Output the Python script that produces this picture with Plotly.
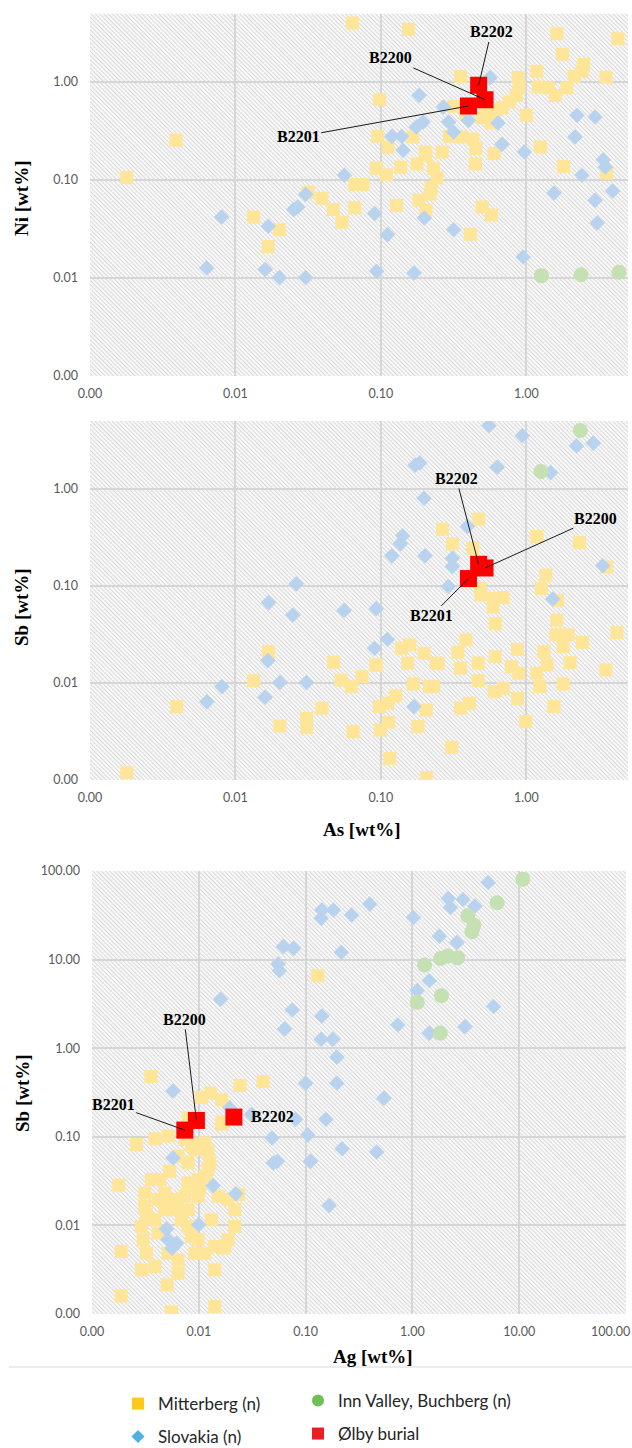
import base64
import numpy as np
import plotly.graph_objects as go

W, H = 632, 1448

# ---------------- DATA ----------------
# Panel 1: Ni vs As
mit1_as = [0.00179, 0.0039, 0.0133, 0.0168, 0.0201, 0.0316, 0.0393, 0.047, 0.054, 0.066, 0.0755, 0.066,
           0.0637, 0.155, 0.098, 0.095, 0.093, 0.112, 0.109, 0.128, 0.137, 0.166, 0.177, 0.204, 0.201,
           0.23, 0.243, 0.222, 0.218, 0.183, 0.204, 0.264, 0.296, 0.359, 0.43, 0.45, 0.447, 0.497, 0.575,
           0.412, 0.60, 0.354, 0.316, 0.383, 0.494, 0.569, 0.527, 0.607, 0.68, 0.764, 0.853, 0.89, 0.88,
           1.0, 1.25, 1.8, 3.57, 1.18, 1.21, 1.42, 1.58, 1.9, 2.13, 2.41, 2.48, 1.77, 1.62, 4.26, 3.53]
mit1_ni = [0.106, 0.254, 0.042, 0.021, 0.031, 0.075, 0.065, 0.050, 0.037, 0.090, 0.090, 0.052,
           4.0, 3.45, 0.66, 0.28, 0.132, 0.217, 0.113, 0.055, 0.135, 0.275, 0.146, 0.177, 0.193,
           0.132, 0.105, 0.084, 0.072, 0.0625, 0.049, 0.193, 0.279, 0.275, 0.26, 0.21, 0.146, 0.053, 0.044,
           0.028, 0.186, 1.14, 0.565, 0.475, 0.433, 0.382, 0.514, 0.506, 0.547, 0.625, 0.73, 0.89, 1.11,
           0.457, 0.217, 0.137, 0.117, 1.29, 0.89, 0.875, 0.73, 0.875, 1.14, 1.29, 1.51, 1.92, 3.11, 2.77, 1.12]

slo1_as = [0.00634, 0.00803, 0.016, 0.0168, 0.0201, 0.0251, 0.0268, 0.0304, 0.0304, 0.056, 0.0905, 0.0934,
           0.111, 0.119, 0.139, 0.142, 0.169, 0.183, 0.175, 0.195, 0.199, 0.269, 0.292, 0.316, 0.316,
           0.40, 0.562, 0.638, 0.68, 0.968, 0.95, 1.55, 2.23, 2.16, 2.41, 2.97, 2.97, 3.07, 3.38, 3.49, 3.92]
slo1_ni = [0.01265, 0.0419, 0.0122, 0.0337, 0.0101, 0.0498, 0.053, 0.0714, 0.0101, 0.112, 0.0454, 0.0117,
           0.0277, 0.279, 0.279, 0.201, 0.01125, 0.731, 0.347, 0.391, 0.041, 0.556, 0.391, 0.309, 0.0311,
           0.406, 1.107, 0.382, 0.231, 0.193, 0.0164, 0.0737, 0.457, 0.275, 0.112, 0.44, 0.062, 0.0364,
           0.161, 0.136, 0.0773]

inn1_as = [1.27, 2.38, 4.33]
inn1_ni = [0.01057, 0.0108, 0.01143]

# Ølby burial samples: B2200, B2201, B2202
olby_names = ["B2200", "B2201", "B2202"]
olby_as = [0.52, 0.40, 0.47]
olby_ni = [0.66, 0.569, 0.925]
olby_sb = [0.153, 0.119, 0.167]
olby_ag = [0.0095, 0.0074, 0.0213]

# Panel 2: Sb vs As
mit2_as = [0.00179, 0.00394, 0.0133, 0.0169, 0.0202, 0.0308, 0.031, 0.0393, 0.0473, 0.0531, 0.0627, 0.0644,
           0.0741, 0.0929, 0.0977, 0.099, 0.113, 0.111, 0.126, 0.115, 0.139, 0.158, 0.153, 0.167, 0.18,
           0.198, 0.205, 0.216, 0.23, 0.24, 0.205, 0.265, 0.31, 0.307, 0.338, 0.353, 0.353, 0.384, 0.407,
           0.429, 0.472, 0.466, 0.466, 0.482, 0.488, 0.596, 0.692, 0.59, 0.612, 0.61, 0.603, 0.694, 0.869,
           0.789, 0.885, 0.869, 0.99, 1.18, 1.27, 1.36, 1.18, 1.24, 1.32, 1.39, 1.55, 1.62, 1.6, 1.64,
           1.79, 1.79, 1.94, 2.0, 2.43, 2.32, 3.52, 3.57, 4.19, 0.248, 0.0923]
mit2_sb = [0.00119, 0.0057, 0.01057, 0.021, 0.0036, 0.00432, 0.00349, 0.00548, 0.0163, 0.0107, 0.00917, 0.00315,
           0.0116, 0.0153, 0.0057, 0.00327, 0.00393, 0.00617, 0.00735, 0.00167, 0.0228, 0.0247, 0.016, 0.00977,
           0.00355, 0.0202, 0.00527, 0.00917, 0.0092, 0.016, 0.00106, 0.384, 0.271, 0.00217, 0.0207, 0.0142,
           0.00548, 0.0277, 0.00617, 0.245, 0.487, 0.016, 0.01057, 0.094, 0.0807, 0.074, 0.0758, 0.0608,
           0.0409, 0.0187, 0.00815, 0.00883, 0.0222, 0.0147, 0.0126, 0.00689, 0.00399, 0.323, 0.094, 0.129,
           0.0126, 0.00917, 0.021, 0.0153, 0.0057, 0.0443, 0.0313, 0.0711, 0.0237, 0.00977, 0.0313, 0.0162,
           0.0262, 0.28, 0.0136, 0.156, 0.033, 0.0158, 0.0152]

slo2_as = [0.00637, 0.00807, 0.016, 0.0167, 0.0169, 0.0202, 0.0248, 0.0262, 0.0308, 0.0558, 0.0929, 0.0904,
           0.111, 0.119, 0.136, 0.141, 0.169, 0.172, 0.185, 0.198, 0.201, 0.291, 0.31, 0.31, 0.394, 0.553,
           0.63, 0.938, 1.47, 1.52, 2.21, 2.89, 3.35]
slo2_sb = [0.00642, 0.00917, 0.00711, 0.017, 0.0673, 0.0101, 0.0502, 0.105, 0.0101, 0.0557, 0.0583, 0.0228,
           0.0282, 0.204, 0.271, 0.328, 0.0057, 1.75, 1.85, 0.80, 0.204, 0.0984, 0.193, 0.158, 0.409, 4.46,
           1.67, 3.52, 1.47, 0.0734, 2.77, 2.96, 0.161]

inn2_as = [1.26, 2.35]
inn2_sb = [1.51, 3.99]

# Panel 3: Sb vs Ag
mit3_ag = [0.130, 0.00356, 0.0243, 0.04, 0.0129, 0.0164, 0.0106, 0.0163, 0.00794, 0.0026, 0.00387, 0.00516,
           0.0074, 0.00917, 0.0122, 0.0127, 0.00794, 0.0064, 0.0114, 0.00854, 0.00178, 0.0043, 0.00312,
           0.00312, 0.00323, 0.00416, 0.00516, 0.0064, 0.0074, 0.00794, 0.0102, 0.0114, 0.0122, 0.0152,
           0.0188, 0.0217, 0.0217, 0.0188, 0.0141, 0.0114, 0.00986, 0.00794, 0.00688, 0.00596, 0.0048,
           0.00387, 0.0029, 0.00301, 0.00323, 0.0029, 0.00387, 0.00516, 0.0064, 0.0064, 0.0141, 0.0169,
           0.00505, 0.00188, 0.00188, 0.00555, 0.0141, 0.00416, 0.00854, 0.00917, 0.0131, 0.00986, 0.00986,
           0.00794, 0.0048, 0.0036, 0.00534, 0.0236, 0.0175, 0.0167]
mit3_sb = [6.59, 0.48, 0.38, 0.42, 0.311, 0.262, 0.277, 0.138, 0.164, 0.0819, 0.095, 0.102,
           0.0933, 0.072, 0.0689, 0.0508, 0.0508, 0.0604, 0.0855, 0.0819, 0.0284, 0.0329, 0.0232,
           0.0164, 0.0132, 0.0196, 0.0164, 0.015, 0.0213, 0.0301, 0.0265, 0.0359, 0.0427, 0.0213,
           0.0196, 0.015, 0.00975, 0.00689, 0.00578, 0.00486, 0.00689, 0.00975, 0.0116, 0.0196, 0.0232,
           0.0116, 0.00975, 0.00689, 0.00486, 0.00315, 0.00343, 0.00486, 0.00408, 0.00289, 0.00315, 0.00553,
           0.00213, 0.00508, 0.0016, 0.00106, 0.00121, 0.00819, 0.0075, 0.00486, 0.0116, 0.0329, 0.0213,
           0.015, 0.015, 0.0329, 0.0408, 0.0222, 0.00582, 0.147]

slo3_ag = [5.12, 2.17, 2.98, 2.27, 3.84, 1.02, 1.79, 2.61, 1.11, 1.44, 5.74, 0.73, 3.11, 1.44, 0.399, 0.269,
           0.182, 0.142, 0.14, 0.216, 0.0619, 0.0771, 0.0553, 0.0568, 0.016, 0.075, 0.142, 0.0636, 0.14, 0.18,
           0.196, 0.1, 0.196, 0.542, 0.00574, 0.0195, 0.0312, 0.0805, 0.155, 0.0485, 0.105, 0.0498, 0.0543,
           0.111, 0.22, 0.462, 0.166, 0.00574, 0.0136, 0.0222, 0.01, 0.00498, 0.00516, 0.00618, 0.00562]
slo3_sb = [74.2, 49, 47.7, 38.8, 40.1, 29.9, 18.4, 15.6, 4.47, 5.78, 2.95, 1.83, 1.75, 1.48, 42.3, 31.8,
           36.2, 36.2, 29.2, 12.1, 14, 13.4, 8.9, 7.5, 3.57, 2.7, 2.31, 1.65, 1.26, 1.26,
           0.792, 0.403, 0.403, 0.273, 0.329, 0.213, 0.179, 0.158, 0.158, 0.0968, 0.105, 0.0506, 0.0528,
           0.0528, 0.0734, 0.0673, 0.0168, 0.0578, 0.0281, 0.0228, 0.0102, 0.00908, 0.00689, 0.0063, 0.00554]

inn3_ag = [10.8, 6.21, 3.3, 3.77, 3.61, 2.66, 2.14, 1.84, 1.3, 1.87, 1.11, 1.82]
inn3_sb = [80.9, 43.8, 31.2, 24.5, 20.6, 10.5, 11.0, 10.3, 8.69, 3.92, 3.3, 1.48]

# label positions (wt%) for the Ølby annotations, per panel: name -> (x, y)
lab1 = {"B2202": (0.573, 3.24), "B2200": (0.117, 1.76), "B2201": (0.027, 0.275)}
lab2 = {"B2202": (0.33, 1.28), "B2200": (2.99, 0.499), "B2201": (0.222, 0.049)}
lab3 = {"B2200": (0.00728, 2.12), "B2201": (0.00158, 0.232)}
lab3_text_only = {"B2202": (0.0485, 0.168)}

series_names = ["Mitterberg (n)", "Inn Valley, Buchberg (n)", "Slovakia (n)", "Ølby burial"]

# ---------------- STYLE ----------------
C_MIT, C_SLO, C_INN, C_RED = "#FFE598", "#B9D3EE", "#C5E0B3", "#FF0000"
L_MIT, L_SLO, L_INN, L_RED = "#FFC91A", "#53AEE6", "#6FBF55", "#EE1C25"
TICKFONT = dict(family="Lato", size=12.5, color="#595959")
LABFONT = dict(family="Liberation Serif", size=16, color="#000000")
TITLEFONT = dict(family="Liberation Serif", size=19, color="#000000")

panels = [dict(x0=90, x1=628, y0=13.5, y1=376), dict(x0=90, x1=628, y0=421, y1=780),
          dict(x0=92, x1=626, y0=871, y1=1314)]

fig = go.Figure()

def add_panel(i, mx, my, sx, sy, ix, iy, rx, ry):
    xa = "x" if i == 1 else f"x{i}"
    ya = "y" if i == 1 else f"y{i}"
    fig.add_trace(go.Scatter(x=mx, y=my, mode="markers", xaxis=xa, yaxis=ya, showlegend=False,
                             marker=dict(symbol="square", size=13, color=C_MIT, line=dict(width=0))))
    fig.add_trace(go.Scatter(x=sx, y=sy, mode="markers", xaxis=xa, yaxis=ya, showlegend=False,
                             marker=dict(symbol="diamond", size=12, color=C_SLO, line=dict(width=0))))
    fig.add_trace(go.Scatter(x=ix, y=iy, mode="markers", xaxis=xa, yaxis=ya, showlegend=False,
                             marker=dict(symbol="circle", size=15, color=C_INN, line=dict(width=0))))
    fig.add_trace(go.Scatter(x=rx, y=ry, mode="markers", xaxis=xa, yaxis=ya, showlegend=False,
                             marker=dict(symbol="square", size=17, color=C_RED, line=dict(width=0))))

add_panel(1, mit1_as, mit1_ni, slo1_as, slo1_ni, inn1_as, inn1_ni, olby_as, olby_ni)
add_panel(2, mit2_as, mit2_sb, slo2_as, slo2_sb, inn2_as, inn2_sb, olby_as, olby_sb)
add_panel(3, mit3_ag, mit3_sb, slo3_ag, slo3_sb, inn3_ag, inn3_sb, olby_ag, olby_sb)

# legend-only traces
leg_specs = [(series_names[0], "square", 12, L_MIT, "legend"),
             (series_names[1], "circle", 12, L_INN, "legend2"),
             (series_names[2], "diamond", 10, L_SLO, "legend3"),
             (series_names[3], "square", 12, L_RED, "legend4")]
for name, sym, sz, col, lg in leg_specs:
    fig.add_trace(go.Scatter(x=[None], y=[None], mode="markers", name=name, legend=lg,
                             marker=dict(symbol=sym, size=sz, color=col, line=dict(width=0))))

def dom(p):
    return [p["x0"] / W, p["x1"] / W], [1 - p["y1"] / H, 1 - p["y0"] / H]

ticks12 = ([0.001, 0.01, 0.1, 1], ["0.00", "0.01", "0.10", "1.00"])
ticks3 = ([0.001, 0.01, 0.1, 1, 10, 100], ["0.00", "0.01", "0.10", "1.00", "10.00", "100.00"])
# the last x tick label of panel 3 would run past the page edge; it is drawn as a right-aligned note
ticks3x = (ticks3[0], ticks3[1][:-1] + [""])

def axis(domain, rng, anchor, tv, tt, standoff):
    return dict(domain=domain, type="log", range=rng, anchor=anchor, tickvals=tv, ticktext=tt,
                showgrid=True, gridcolor="#d6d6d6", gridwidth=1.5, zeroline=False, showline=False,
                ticks="", tickfont=TICKFONT, ticklabelstandoff=standoff, automargin=False)

lr5 = [-3, float(np.log10(5))]
layout = dict(width=W, height=H, margin=dict(l=0, r=0, t=0, b=0, pad=0, autoexpand=False),
              paper_bgcolor="white", plot_bgcolor="rgba(0,0,0,0)", showlegend=True)
for i, p in enumerate(panels, start=1):
    dx, dy = dom(p)
    sfx = "" if i == 1 else str(i)
    tvx, ttx = ticks12 if i < 3 else ticks3x
    tvy, tty = ticks12 if i < 3 else ticks3
    rng = lr5 if i < 3 else [-3, 2]
    layout["xaxis" + sfx] = axis(dx, rng, "y" + sfx, tvx, ttx, 8)
    layout["yaxis" + sfx] = axis(dy, rng, "x" + sfx, tvy, tty, 11)

# hatched plot background
images = []
for p in panels:
    w = p["x1"] - p["x0"]
    h = p["y1"] - p["y0"]
    svg = (f"<svg xmlns='http://www.w3.org/2000/svg' width='{w}' height='{h}'>"
           "<defs><pattern id='p' width='3' height='3' patternUnits='userSpaceOnUse' "
           "patternTransform='rotate(-45)'><rect width='3' height='3' fill='#f8f8f8'/>"
           "<rect width='1' height='3' fill='#dadada'/></pattern></defs>"
           f"<rect width='{w}' height='{h}' fill='url(#p)'/></svg>")
    src = "data:image/svg+xml;base64," + base64.b64encode(svg.encode()).decode()
    images.append(dict(source=src, xref="paper", yref="paper", x=p["x0"] / W, y=1 - p["y0"] / H,
                       sizex=w / W, sizey=h / H, xanchor="left", yanchor="top",
                       sizing="stretch", layer="below"))
layout["images"] = images

# annotations
ann = []
def arrow_labels(labels, xs, ys, xa, ya):
    for name, (lx, ly) in labels.items():
        k = olby_names.index(name)
        ann.append(dict(text=f"<b>{name}</b>", font=LABFONT, xref=xa, yref=ya, axref=xa, ayref=ya,
                        x=float(np.log10(xs[k])), y=float(np.log10(ys[k])),
                        ax=float(np.log10(lx)), ay=float(np.log10(ly)),
                        showarrow=True, arrowhead=0, arrowwidth=1, arrowcolor="#1a1a1a",
                        standoff=0, startstandoff=0))

arrow_labels(lab1, olby_as, olby_ni, "x", "y")
arrow_labels(lab2, olby_as, olby_sb, "x2", "y2")
arrow_labels(lab3, olby_ag, olby_sb, "x3", "y3")
for name, (lx, ly) in lab3_text_only.items():
    ann.append(dict(text=f"<b>{name}</b>", font=LABFONT, xref="x3", yref="y3",
                    x=float(np.log10(lx)), y=float(np.log10(ly)), showarrow=False))

# last x tick label of panel 3, kept inside the page
ann.append(dict(text=ticks3[1][-1], font=TICKFONT, xref="paper", yref="paper",
                x=1.0, y=1 - 1331 / H, xanchor="right", yanchor="middle", showarrow=False))

def ptitle(text, px, py, angle=0):
    ann.append(dict(text=f"<b>{text}</b>", font=TITLEFONT, xref="paper", yref="paper",
                    x=px / W, y=1 - py / H, showarrow=False, textangle=angle,
                    xanchor="center", yanchor="middle"))

ptitle("Ni [wt%]", 21, 198, -90)
ptitle("Sb [wt%]", 21, 607, -90)
ptitle("As [wt%]", 362, 829)
ptitle("Sb [wt%]", 22, 1093, -90)
ptitle("Ag [wt%]", 373, 1356)
layout["annotations"] = ann

layout["shapes"] = [dict(type="line", xref="paper", yref="paper", x0=9 / W, x1=1.0,
                         y0=1 - 1367 / H, y1=1 - 1367 / H, line=dict(color="#d9d9d9", width=1))]

LEGFONT = dict(family="Lato", size=17, color="#262626")
def leg(px, py):
    return dict(x=px / W, y=1 - py / H, xanchor="left", yanchor="middle", font=LEGFONT,
                bgcolor="rgba(0,0,0,0)", borderwidth=0)
layout["legend"] = leg(118, 1404)
layout["legend2"] = leg(298, 1401)
layout["legend3"] = leg(118, 1437)
layout["legend4"] = leg(298, 1434)

fig.update_layout(**layout)
fig.write_html("out.html", config={"displayModeBar": False},
               post_script="document.body.style.margin='0';document.body.style.overflow='hidden';")
